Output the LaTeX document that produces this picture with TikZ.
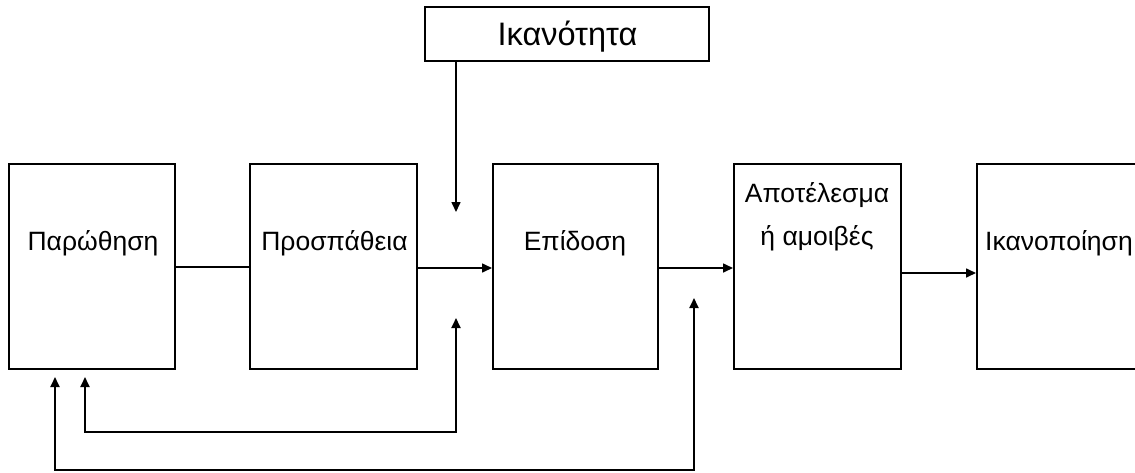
\documentclass[tikz,border=0pt]{standalone}
\usepackage{fontspec}
\setmainfont{Liberation Sans}
\usetikzlibrary{arrows.meta}
\begin{document}
\begin{tikzpicture}[x=1pt,y=-1pt,
  box/.style={draw,line width=2pt,minimum width=#1,minimum height=205pt,inner sep=0pt},
  box/.default=166pt,
  txt/.style={font=\fontsize{26.5}{43}\selectfont,inner sep=0pt,align=center,anchor=base},
  link/.style={line width=2pt},
  arr/.style={line width=1.6pt,-{Triangle[length=10pt,width=9pt]}},
  arr2/.style={line width=1.8pt,{Triangle[length=10pt,width=9pt]}-{Triangle[length=10pt,width=9pt]}}]
\useasboundingbox (0,0) rectangle (1135,472);
\clip (0,0) rectangle (1135,472);

% chain of boxes
\node[box] (p1) at (92,266.5) {};
\node[box=167pt] (p2) at (333.5,266.5) {};
\node[box=165pt] (p3) at (575.5,266.5) {};
\node[box=167pt] (p4) at (817.5,266.5) {};
\node[box=200pt] (p5) at (1077,266.5) {};
\node[draw,line width=2pt,minimum width=284pt,minimum height=54pt,inner sep=0pt] (ik) at (567,34) {};

% labels
\node[txt] (t1) at (93,250) {Παρώθηση};
\node[txt] (t2) at (334.5,250) {Προσπάθεια};
\node[txt] (t3) at (575,250) {Επίδοση};
\node[txt] (t4a) at (817,202) {Αποτέλεσμα};
\node[txt] (t4b) at (817,245) {ή αμοιβές};
\node[txt,anchor=base west] (t5) at (985,250) {Ικανοποίηση};
\node[txt,font=\fontsize{32.5}{39}\selectfont] (t6) at (567.5,45) {Ικανότητα};

% forward connections (yshift is in page units, so negative moves down)
\draw[link] ([yshift=-0.5pt]p1.east) -- ([yshift=-0.5pt]p2.west);
\draw[arr] ([yshift=-1.5pt]p2.east) -- ([yshift=-1.5pt]p3.west);
\draw[arr] ([yshift=-1.5pt]p3.east) -- ([yshift=-1.5pt]p4.west);
\draw[arr] ([yshift=-6.5pt]p4.east) -- ([yshift=-6.5pt]p5.west);

% ability input
\coordinate (ikTip) at (456,212);
\draw[arr] (ik.south -| ikTip) -- (ikTip);

% feedback loops
\coordinate (fbA) at (456,318);
\coordinate (fbAc) at (456,432);
\coordinate (fbAl) at (85,432);
\coordinate (fbAt) at (85,377);
\draw[arr2] (fbA) -- (fbAc) -- (fbAl) -- (fbAt);

\coordinate (fbB) at (694,298);
\coordinate (fbBc) at (694,470);
\coordinate (fbBl) at (55,470);
\coordinate (fbBt) at (55,377);
\draw[arr2] (fbB) -- (fbBc) -- (fbBl) -- (fbBt);
\end{tikzpicture}
\end{document}
